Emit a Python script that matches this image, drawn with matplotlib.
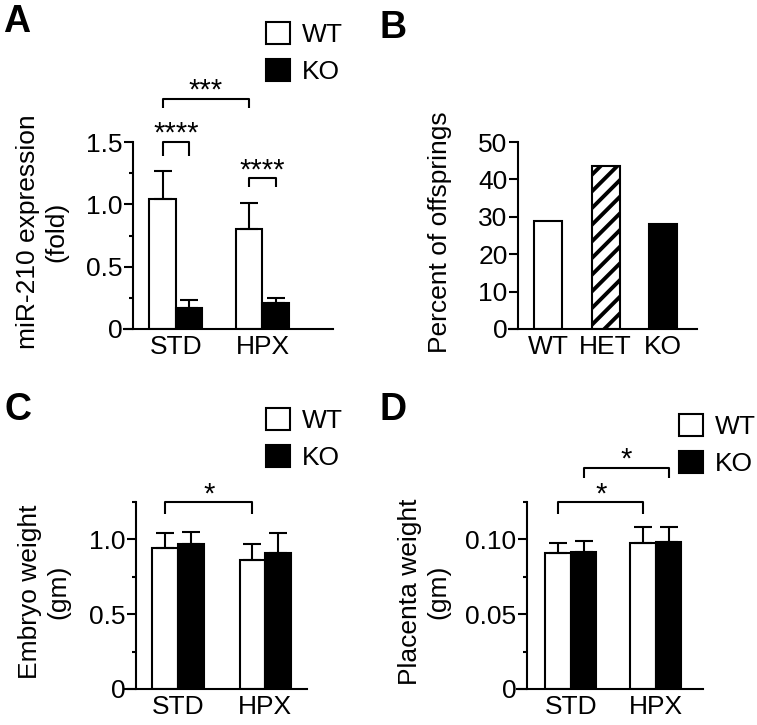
import numpy as np
import matplotlib
matplotlib.use("Agg")
import matplotlib.pyplot as plt

plt.rcParams['font.family'] = ['Liberation Sans', 'DejaVu Sans']
plt.rcParams['hatch.linewidth'] = 2.8

# data
groups = ['STD', 'HPX']
mir_wt = [1.04, 0.80]
mir_wt_err = [0.23, 0.21]
mir_ko = [0.17, 0.21]
mir_ko_err = [0.06, 0.04]

genotypes = ['WT', 'HET', 'KO']
offspring_pct = [28.8, 43.7, 28.2]

embryo_wt = [0.94, 0.86]
embryo_wt_err = [0.10, 0.11]
embryo_ko = [0.97, 0.91]
embryo_ko_err = [0.08, 0.13]

placenta_wt = [0.0907, 0.0973]
placenta_wt_err = [0.0066, 0.0107]
placenta_ko = [0.0913, 0.0980]
placenta_ko_err = [0.0074, 0.0100]

W, H = 757, 725
FS = 19
fig = plt.figure(figsize=(W / 100, H / 100), dpi=100)


def add_ax(x0, y0, x1, y1):
    # pixel box -> figure fraction
    return fig.add_axes([x0 / W, 1 - y1 / H, (x1 - x0) / W, (y1 - y0) / H])


def style(ax, spine_x, xlim, ylim, yticks, ylabels, minor=None):
    ax.set_xlim(*xlim)
    ax.set_ylim(*ylim)
    for s in ['top', 'right']:
        ax.spines[s].set_visible(False)
    ax.spines['left'].set_position(('data', spine_x))
    ax.spines['left'].set_bounds(ylim[0], ylim[1])
    for s in ['left', 'bottom']:
        ax.spines[s].set_linewidth(1.5)
    ax.set_yticks(yticks)
    ax.set_yticklabels(ylabels)
    if minor is not None:
        ax.set_yticks(minor, minor=True)
    ax.tick_params(axis='y', which='major', length=6.5, width=1.5, pad=1, labelsize=FS)
    ax.tick_params(axis='y', which='minor', length=3.2, width=1.5)
    ax.tick_params(axis='x', length=0, pad=4, labelsize=FS)


def grouped(ax, wt, wt_err, ko, ko_err, w):
    x = np.arange(len(groups))
    b1 = ax.bar(x - w / 2, wt, w, color='white', edgecolor='black', linewidth=1.5, zorder=2)
    b2 = ax.bar(x + w / 2, ko, w, color='black', edgecolor='black', linewidth=1.5, zorder=2)
    ax.errorbar(x - w / 2, wt, yerr=[np.zeros(len(wt)), wt_err], fmt='none', ecolor='black',
                elinewidth=1.5, capsize=6.5, capthick=1.5, zorder=3, clip_on=False)
    ax.errorbar(x + w / 2, ko, yerr=[np.zeros(len(ko)), ko_err], fmt='none', ecolor='black',
                elinewidth=1.5, capsize=6.5, capthick=1.5, zorder=3, clip_on=False)
    ax.set_xticks(x)
    ax.set_xticklabels(groups)
    return b1, b2


def bracket(ax, x1, x2, ytop, yleg, label):
    ax.plot([x1, x1, x2, x2], [yleg, ytop, ytop, yleg], color='black', lw=1.5,
            clip_on=False, solid_capstyle='butt')
    ax.annotate(label, xy=((x1 + x2) / 2, ytop), xytext=(0, 0), textcoords='offset points',
                ha='center', va='baseline', fontsize=21, annotation_clip=False)


def legend(ax, handles, x, y):
    ax.legend(handles, ['WT', 'KO'], loc='upper left', bbox_to_anchor=(x / W, 1 - y / H),
              bbox_transform=fig.transFigure, frameon=False, borderpad=0, borderaxespad=0,
              handlelength=0.9, handleheight=0.9, handletextpad=0.45, labelspacing=0.45,
              fontsize=FS)


# A
wA = 0.306
axA = add_ax(124, 142, 333, 329)
bA = grouped(axA, mir_wt, mir_wt_err, mir_ko, mir_ko_err, wA)
style(axA, -0.5, (-0.60, 1.815), (0, 1.5), [0, 0.5, 1.0, 1.5], ['0', '0.5', '1.0', '1.5'],
      [0.25, 0.75, 1.25])
axA.set_ylabel('miR-210 expression\n(fold)', fontsize=FS)
axA.yaxis.set_label_coords(-0.268, 0.52)
bracket(axA, -wA / 2, wA / 2, 1.5, 1.39, '****')
bracket(axA, 1 - wA / 2, 1 + wA / 2, 1.208, 1.136, '****')
bracket(axA, -wA / 2, 1 - wA / 2, 1.848, 1.776, '***')
legend(axA, bA, 266, 22)

# B
axB = add_ax(509, 142, 697, 329)
xB = np.arange(len(genotypes))
axB.bar(xB, offspring_pct, 0.487, color=['white', 'white', 'black'], edgecolor='black',
        linewidth=1.5, hatch=['', '//', ''], zorder=2)
axB.set_xticks(xB)
axB.set_xticklabels(genotypes)
style(axB, -0.52, (-0.678, 2.59), (0, 50), [0, 10, 20, 30, 40, 50],
      ['0', '10', '20', '30', '40', '50'])
axB.set_ylabel('Percent of offsprings', fontsize=FS)
axB.yaxis.set_label_coords(-0.303, 0.52)

# C
wC = 0.293
axC = add_ax(124, 502, 307, 689)
bC = grouped(axC, embryo_wt, embryo_wt_err, embryo_ko, embryo_ko_err, wC)
style(axC, -0.483, (-0.62, 1.48), (0, 1.25), [0, 0.5, 1.0], ['0', '0.5', '1.0'],
      [0.25, 0.75, 1.25])
axC.set_ylabel('Embryo weight\n(gm)', fontsize=FS)
axC.yaxis.set_label_coords(-0.295, 0.52)
bracket(axC, -wC / 2, 1 - wC / 2, 1.247, 1.173, '*')
legend(axC, bC, 266, 408)

# D
wD = 0.30
axD = add_ax(517, 502, 703, 689)
bD = grouped(axD, placenta_wt, placenta_wt_err, placenta_ko, placenta_ko_err, wD)
style(axD, -0.518, (-0.635, 1.553), (0, 0.125), [0, 0.05, 0.10], ['0', '0.05', '0.10'],
      [0.025, 0.075, 0.125])
axD.set_ylabel('Placenta weight\n(gm)', fontsize=FS)
axD.yaxis.set_label_coords(-0.36, 0.52)
bracket(axD, -wD / 2, 1 - wD / 2, 0.1247, 0.1173, '*')
bracket(axD, wD / 2, 1 + wD / 2, 0.148, 0.1413, '*')
legend(axD, bD, 679, 414)

# panel letters
for letter, x, y in [('A', 3, 32), ('B', 380, 38), ('C', 5, 420), ('D', 380, 420)]:
    fig.text(x / W, 1 - y / H, letter, fontsize=27, fontweight='bold', va='baseline', ha='left')

fig.savefig('out.png', dpi=100)
